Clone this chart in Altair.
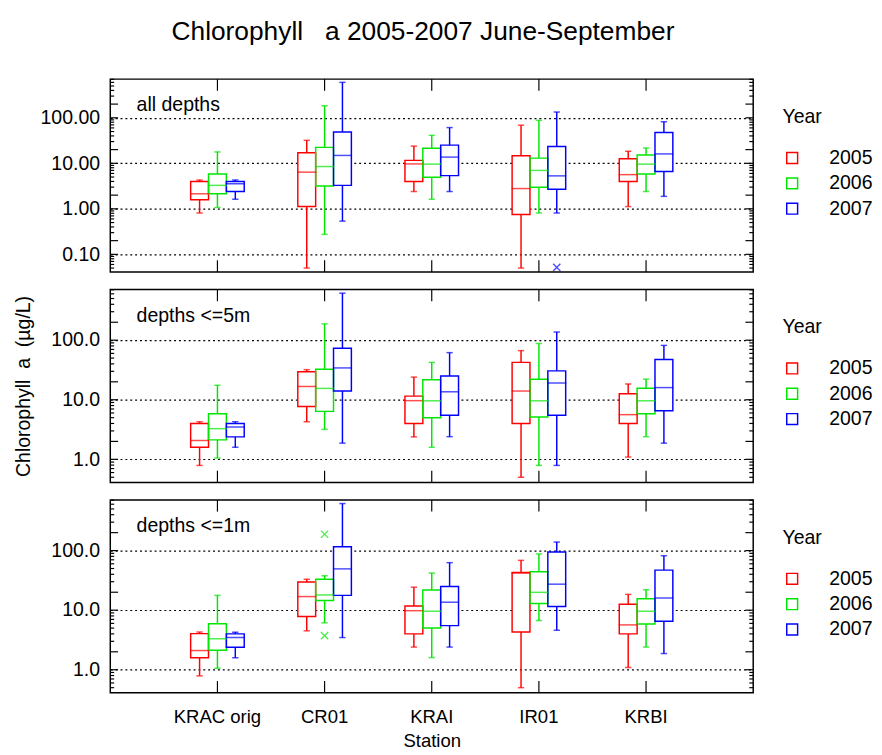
import altair as alt
import pandas as pd

STATIONS = ["KRAC orig", "CR01", "KRAI", "IR01", "KRBI"]
YEARS = ["2005", "2006", "2007"]
COLORS = ["#ff0000", "#00e600", "#0000ff"]

# rows: station-major, year-minor (KRAC 2005, 2006, 2007, CR01 2005, ...)
ALL_LO  = [0.81, 1.07, 1.62,  0.05, 0.275, 0.537,  2.4, 1.62, 2.4,   0.05, 0.81, 0.81,  1.12, 2.4, 1.88]
ALL_Q1  = [1.59, 2.14, 2.4,   1.12, 3.17, 3.28,    4.0, 4.94, 5.37,  0.75, 2.97, 2.69,  4.0, 5.8, 6.6]
ALL_MED = [2.14, 3.28, 3.56,  6.4, 8.5, 14.9,      9.7, 9.6, 13.7,   2.79, 6.98, 5.3,   5.64, 9.6, 16.1]
ALL_Q3  = [4.0, 5.8, 4.0,     17.0, 22.4, 48.6,    11.6, 21.4, 25.1, 14.6, 13.0, 23.5,  12.6, 15.3, 47.7]
ALL_HI  = [4.3, 17.8, 4.3,    32.0, 184.0, 601.0,  23.9, 41.2, 61.0, 68.8, 88.0, 134.0, 18.4, 21.7, 82.0]
ALL_OUT_ST = ["IR01"]
ALL_OUT_YR = ["2007"]
ALL_OUT_V = [0.052]

D5_LO  = [0.79, 1.05, 1.59,  4.27, 3.18, 1.87,    2.38, 1.59, 2.4,   0.5, 0.79, 0.79,    1.09, 2.4, 1.87]
D5_Q1  = [1.59, 2.12, 2.38,  7.7, 6.38, 14.0,     4.0, 4.97, 5.48,   4.0, 5.15, 5.48,    4.0, 5.84, 6.55]
D5_MED = [2.07, 3.27, 3.48,  16.7, 15.5, 34.2,    9.66, 9.6, 13.6,   14.0, 9.6, 19.1,    5.62, 9.6, 16.0]
D5_Q3  = [4.0, 5.84, 4.0,    29.4, 32.5, 73.0,    11.5, 21.7, 25.0,  42.4, 22.0, 30.5,   12.6, 15.6, 47.4]
D5_HI  = [4.27, 17.5, 4.27,  32.0, 188.0, 615.0,  24.0, 42.4, 61.8,  66.8, 88.0, 137.0,  18.4, 22.2, 81.7]
D5_OUT_ST = []
D5_OUT_YR = []
D5_OUT_V = []

D1_LO  = [0.79, 1.06, 1.59,  4.5, 6.14, 3.47,     2.4, 1.6, 2.4,     0.5, 6.7, 4.6,      1.09, 2.4, 1.87]
D1_Q1  = [1.59, 2.12, 2.38,  7.8, 14.5, 17.7,     4.0, 5.0, 5.5,     4.3, 12.9, 11.5,    4.0, 5.84, 6.5]
D1_MED = [2.1, 3.31, 3.48,   16.9, 18.0, 49.3,    9.8, 9.6, 13.6,    42.0, 19.9, 27.3,   5.66, 9.6, 16.0]
D1_Q3  = [4.04, 5.9, 4.0,    29.8, 33.0, 116.0,   11.7, 21.8, 25.0,  43.0, 44.0, 95.0,   12.6, 15.5, 47.0]
D1_HI  = [4.3, 17.7, 4.27,   33.0, 37.8, 615.0,   24.3, 42.0, 62.7,  68.5, 88.0, 139.0,  18.4, 22.0, 82.0]
D1_OUT_ST = ["CR01", "CR01"]
D1_OUT_YR = ["2006", "2006"]
D1_OUT_V = [188.0, 3.75]

TICK_MAJOR = [m * 10.0 ** e for e in range(-2, 3) for m in (1, 2)]
TICK_MINOR = [m * 10.0 ** e for e in range(-2, 3) for m in (3, 4, 5, 6, 7, 8, 9)]

FONT = "Liberation Sans"
W, H = 660, 198


def panel(lo, q1, med, q3, hi, ost, oyr, ov, label, domain, fmt, bottom, ytitle):
    st = [s for s in STATIONS for _ in YEARS]
    yr = [y for _ in STATIONS for y in YEARS]
    df = pd.DataFrame({"station": st, "year": yr, "lo": lo, "q1": q1,
                       "med": med, "q3": q3, "hi": hi})
    yscale = alt.Scale(type="log", domain=domain, nice=False, zero=False)
    yaxis = alt.Axis(values=[0.1, 1, 10, 100] if domain[0] < 0.1 else [1, 10, 100],
                     format=fmt, grid=True, gridDash=[2, 3], gridColor="black",
                     gridWidth=1.2, gridOpacity=1, ticks=False, domain=False,
                     labelFontSize=20, labelPadding=11, labelColor="black",
                     title=ytitle, titleFontSize=20, titleFontWeight="normal",
                     titlePadding=18, titleColor="black")
    if bottom:
        xaxis = alt.Axis(ticks=False, domain=False, grid=False, labelAngle=0,
                         labelFontSize=19, labelPadding=16, labelColor="black",
                         title="Station", titleFontSize=19, titleFontWeight="normal",
                         titlePadding=5, titleColor="black")
    else:
        xaxis = None
    xs = alt.Scale(domain=STATIONS, paddingInner=0.5, paddingOuter=0.75)
    X = alt.X("station:N", scale=xs, axis=xaxis, sort=STATIONS)
    XO = alt.XOffset("year:N", scale=alt.Scale(domain=YEARS, paddingInner=0, paddingOuter=0))
    leg = alt.Legend(title="Year", orient="none", legendX=690, legendY=29,
                     symbolType="square", symbolSize=125, symbolStrokeWidth=1.5,
                     titleFontSize=20, titleFontWeight="normal", titlePadding=22,
                     labelFontSize=20, labelOffset=28, rowPadding=6,
                     titleColor="black", labelColor="black")
    col = alt.Color("year:N", scale=alt.Scale(domain=YEARS, range=COLORS), legend=leg)

    def Y(f):
        return alt.Y(f, type="quantitative", scale=yscale, axis=yaxis)

    base = alt.Chart(df)
    whisk = base.mark_rule(strokeWidth=1.5).encode(x=X, xOffset=XO, y=Y("lo"), y2="hi", color=col)
    boxfill = base.mark_bar(fill="white", strokeOpacity=0).encode(x=X, xOffset=XO, y=Y("q1"), y2="q3")
    box = base.mark_bar(filled=False, strokeWidth=1.5).encode(
        x=X, xOffset=XO, y=Y("q1"), y2="q3", color=col)
    medt = base.mark_tick(filled=False, thickness=0.01, strokeWidth=1.5, size=18).encode(
        x=X, xOffset=XO, y=Y("med"), color=col)
    caplo = base.mark_tick(filled=False, thickness=0.01, strokeWidth=1.5, size=5).encode(
        x=X, xOffset=XO, y=Y("lo"), color=col)
    caphi = base.mark_tick(filled=False, thickness=0.01, strokeWidth=1.5, size=5).encode(
        x=X, xOffset=XO, y=Y("hi"), color=col)

    maj = pd.DataFrame({"v": [t for t in TICK_MAJOR if domain[0] <= t <= domain[1]]})
    mnr = pd.DataFrame({"v": [t for t in TICK_MINOR if domain[0] <= t <= domain[1]]})
    tk = []
    for d, ln in ((maj, 8), (mnr, 4)):
        c = alt.Chart(d).mark_rule(color="black", strokeWidth=1.2)
        tk.append(c.encode(y=Y("v"), x=alt.value(0), x2=alt.value(ln)))
        tk.append(c.encode(y=Y("v"), x=alt.value(W - ln), x2=alt.value(W)))
    sdf = pd.DataFrame({"station": STATIONS})
    sc = alt.Chart(sdf).mark_rule(color="black", strokeWidth=1.2)
    tk.append(sc.encode(x=X, y=alt.value(0), y2=alt.value(12)))
    tk.append(sc.encode(x=X, y=alt.value(H - 12), y2=alt.value(H)))

    note = alt.Chart(pd.DataFrame({"t": [label]})).mark_text(
        align="left", baseline="middle", fontSize=20, font=FONT, color="black"
    ).encode(text="t:N", x=alt.value(27), y=alt.value(27))

    layers = tk + [whisk, boxfill, box, medt, caplo, caphi]
    if ov:
        odf = pd.DataFrame({"station": ost, "year": oyr, "v": ov})
        outl = alt.Chart(odf).mark_point(shape="M-1,-1L1,1M-1,1L1,-1",
                                         filled=False, size=55, strokeWidth=1.4).encode(
            x=X, xOffset=XO, y=Y("v"), color=col)
        layers.append(outl)
    layers.append(note)
    return alt.layer(*layers).properties(width=W, height=H)


p1 = panel(ALL_LO, ALL_Q1, ALL_MED, ALL_Q3, ALL_HI, ALL_OUT_ST, ALL_OUT_YR, ALL_OUT_V,
           "all depths", [0.041, 708], ".2f", False, None)
p2 = panel(D5_LO, D5_Q1, D5_MED, D5_Q3, D5_HI, D5_OUT_ST, D5_OUT_YR, D5_OUT_V,
           "depths <=5m", [0.41, 708], ".1f", False, "Chlorophyll\u00a0 a\u00a0 (µg/L)")
p3 = panel(D1_LO, D1_Q1, D1_MED, D1_Q3, D1_HI, D1_OUT_ST, D1_OUT_YR, D1_OUT_V,
           "depths <=1m", [0.41, 708], ".1f", True, None)

chart = alt.vconcat(p1, p2, p3, spacing=18, bounds="flush").resolve_scale(
    color="independent"
).resolve_legend(color="independent").properties(
    title=alt.TitleParams("Chlorophyll\u00a0\u00a0 a 2005-2007 June-September", fontSize=27,
                          fontWeight="normal", font=FONT, anchor="middle", offset=33,
                          dx=-21, color="black"),
    padding={"left": 5, "top": 0, "right": 0, "bottom": 0},
).configure(font=FONT).configure_view(stroke="black", strokeWidth=1.5)

chart.save("out.html", embed_options={"renderer": "svg", "actions": False})
